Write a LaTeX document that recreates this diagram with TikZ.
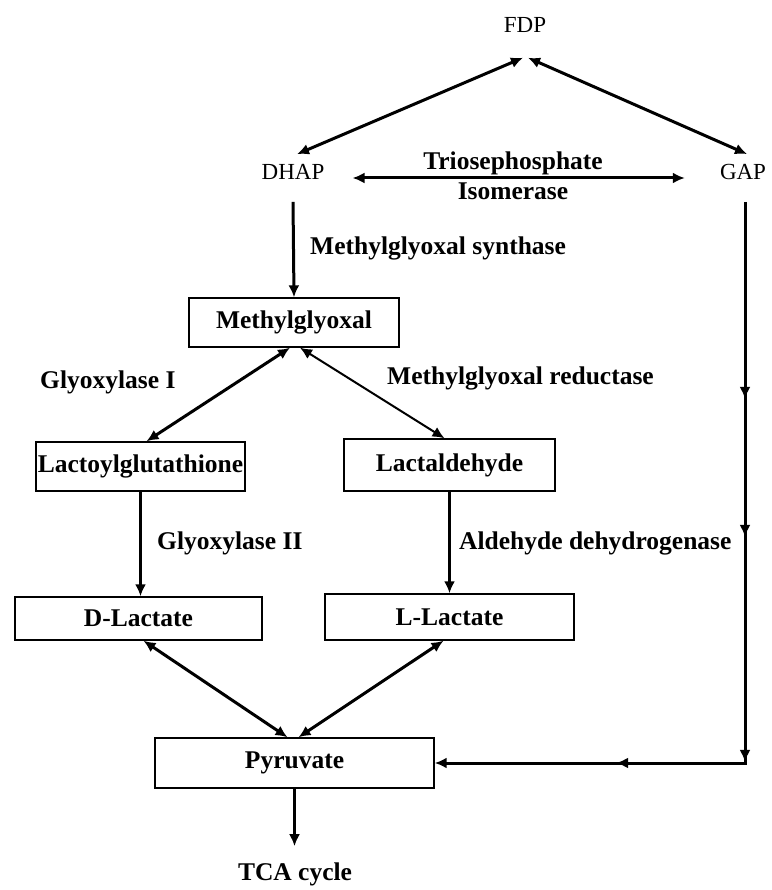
\documentclass[tikz,border=0pt]{standalone}
\usepackage{fontspec}
\setmainfont{Liberation Serif}
\usetikzlibrary{arrows.meta,decorations.markings}

\tikzset{
  box/.style={draw,line width=1.4pt,inner sep=0pt,font=\bfseries\fontsize{25.5}{30}\selectfont},
  enz/.style={anchor=west,inner sep=0pt,font=\bfseries\fontsize{25.5}{30}\selectfont},
  met/.style={inner sep=0pt,font=\fontsize{23}{26}\selectfont},
  flow/.style={line width=3pt,-{Latex[length=12pt,width=11pt]}},
  twoway/.style={line width=3pt,{Latex[length=12pt,width=11pt]}-{Latex[length=12pt,width=11pt]}},
}

\begin{document}
\begin{tikzpicture}[x=1pt,y=-1pt]
\useasboundingbox (0,0) rectangle (771,890);

% triose phosphates
\node[met] (fdp) at (525,25) {FDP};
\node[met] (dhap) at (293,172) {DHAP};
\node[met] (gap) at (743,172) {GAP};

\draw[twoway] ([xshift=-2pt,yshift=-25pt]fdp.south) -- ([xshift=4pt,yshift=10pt]dhap.north);
\draw[twoway] ([xshift=3pt,yshift=-25pt]fdp.south) -- ([xshift=4pt,yshift=10pt]gap.north);
\draw[twoway] ([xshift=28pt,yshift=-6pt]dhap.east) -- ([xshift=-35pt,yshift=-6pt]gap.west);
\node[align=center,inner sep=0pt,font=\bfseries\fontsize{25.5}{30}\selectfont] (tpi) at (513,176) {Triosephosphate\\Isomerase};

% boxes
\node[box,minimum width=210,minimum height=49] (mg) at (294,322.5) {Methylglyoxal};
\node[box,minimum width=209,minimum height=49] (lg) at (140.5,466.5) {Lactoylglutathione};
\node[box,minimum width=211,minimum height=52] (la) at (449.5,465) {Lactaldehyde};
\node[box,minimum width=247,minimum height=43] (dl) at (138.5,618.5) {D-Lactate};
\node[box,minimum width=249,minimum height=46] (ll) at (449.5,617) {L-Lactate};
\node[box,minimum width=279,minimum height=50] (pyr) at (294.5,763) {Pyruvate};
\node[inner sep=0pt,font=\bfseries\fontsize{25.5}{30}\selectfont] (tca) at (295,874) {TCA cycle};

% enzymes
\node[enz] (mgs) at (310,248) {Methylglyoxal synthase};
\node[enz] (glo1) at (40,382) {Glyoxylase I};
\node[enz] (mgr) at (387,378) {Methylglyoxal reductase};
\node[enz] (glo2) at (157,543) {Glyoxylase II};
\node[enz] (aldh) at (459,543) {Aldehyde dehydrogenase};

% connectors
\draw[flow] ([yshift=-22pt]dhap.south) -- (mg.north);
\draw[twoway] ([xshift=-4pt]mg.south) -- ([xshift=6pt]lg.north);
\draw[twoway,line width=2pt] ([xshift=6pt]mg.south) -- ([xshift=-5pt]la.north);
\draw[flow] (lg.south) -- (lg.south |- dl.north);
\draw[flow] (la.south) -- (la.south |- ll.north);
\draw[twoway] ([xshift=5pt]dl.south) -- ([xshift=-7pt]pyr.north);
\draw[twoway] ([xshift=-6pt]ll.south) -- ([xshift=4pt]pyr.north);
\draw[flow] (pyr.south) -- ([yshift=16pt]pyr.south |- tca.north);

\coordinate (turn) at ([xshift=2pt]gap.south |- pyr.east);
\draw[flow,postaction={decorate},decoration={markings,
  mark=at position 197pt with {\arrow{Latex[length=12pt,width=11pt]}},
  mark=at position 335pt with {\arrow{Latex[length=12pt,width=11pt]}},
  mark=at position 560pt with {\arrow{Latex[length=12pt,width=11pt]}},
  mark=at position 690pt with {\arrow{Latex[length=12pt,width=11pt]}}}]
  ([xshift=2pt,yshift=-22pt]gap.south) -- (turn) -- (pyr.east);

\end{tikzpicture}
\end{document}
